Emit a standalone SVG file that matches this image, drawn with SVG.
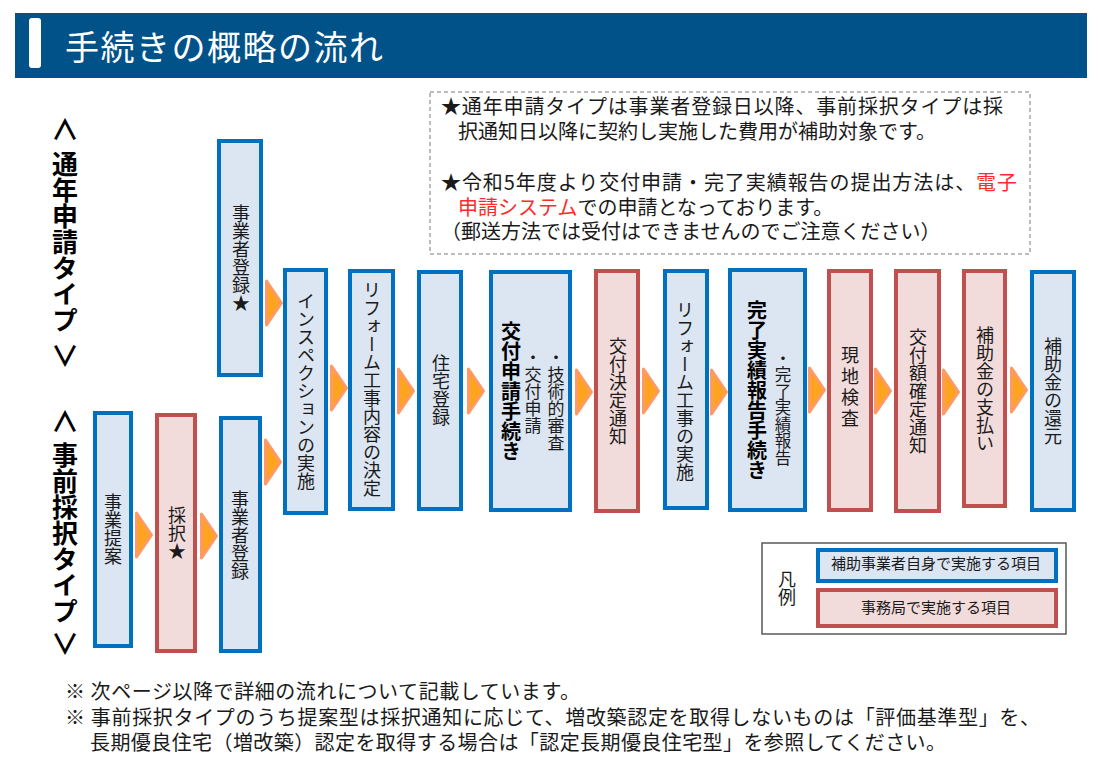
<svg xmlns="http://www.w3.org/2000/svg" width="1100" height="780" viewBox="0 0 1100 780">
<style>
text { font-family: "Noto Sans CJK JP", "Noto Sans", sans-serif; fill: #1a1a1a; }
.v { writing-mode: vertical-rl; text-anchor: middle; font-size: 18px; }
.vs { writing-mode: vertical-rl; text-anchor: start; font-size: 17px; }
.vb { writing-mode: vertical-rl; text-anchor: middle; font-size: 20px; font-weight: bold; fill: #000; }
.lab { writing-mode: vertical-rl; text-anchor: middle; font-size: 26px; font-weight: bold; fill: #000; }
.ang { text-anchor: middle; font-size: 28px; font-weight: bold; fill: #000; }
.bx { fill: #DCE6F2; stroke: #0070C0; stroke-width: 4; }
.rx { fill: #F2DCDB; stroke: #C0504D; stroke-width: 4; }
.note { font-size: 20px; }
.foot { font-size: 20px; }
.red { fill: #FF2A2A; }
</style>
<defs>
<path id="arr" d="M1.5,2 L16.5,24 L1.5,46 Z" fill="#FFA41F" stroke="#FF9966" stroke-width="3" stroke-linejoin="round"/>
</defs>

<g id="header">
<rect x="15" y="13" width="1072" height="65" fill="#02528A"/>
<rect x="29" y="18" width="12" height="50" rx="3" fill="#FFFFFF"/>
<text x="65" y="60" textLength="318" style="font-size:34px; fill:#FFFFFF;">手続きの概略の流れ</text>
</g>

<g id="type-labels">
<text class="ang" x="65" y="140">∧</text>
<text class="lab" x="65" y="242">通年申請タイプ</text>
<text class="ang" x="65" y="367">∨</text>
<text class="ang" x="65" y="432">∧</text>
<text class="lab" x="65" y="533">事前採択タイプ</text>
<text class="ang" x="65" y="655">∨</text>
</g>

<g id="notice">
<rect x="430" y="92" width="600" height="162" fill="none" stroke="#A6A6A6" stroke-width="1.5" stroke-dasharray="4,3"/>
<text class="note" x="441" y="114" textLength="562">★通年申請タイプは事業者登録日以降、事前採択タイプは採</text>
<text class="note" x="458" y="139">択通知日以降に契約し実施した費用が補助対象です。</text>
<text class="note" x="441" y="190" textLength="576">★令和5年度より交付申請・完了実績報告の提出方法は、<tspan class="red">電子</tspan></text>
<text class="note" x="458" y="215"><tspan class="red">申請システム</tspan>での申請となっております。</text>
<text class="note" x="441" y="239">（郵送方法では受付はできませんのでご注意ください）</text>
</g>

<g id="connectors">
<use href="#arr" x="265" y="279"/>
<use href="#arr" x="135" y="511"/>
<use href="#arr" x="200" y="512"/>
<use href="#arr" x="264" y="438"/>
<use href="#arr" x="330" y="364"/>
<use href="#arr" x="397" y="367"/>
<use href="#arr" x="467" y="367"/>
<use href="#arr" x="575" y="368"/>
<use href="#arr" x="642" y="367"/>
<use href="#arr" x="710" y="368"/>
<use href="#arr" x="808" y="366"/>
<use href="#arr" x="874" y="367"/>
<use href="#arr" x="942" y="368"/>
<use href="#arr" x="1010" y="366"/>
</g>

<g id="n-jigyosha-tounen">
<rect class="bx" x="219" y="141" width="42" height="234"/>
<text class="v" x="241" y="258">事業者登録★</text>
</g>
<g id="n-teian">
<rect class="bx" x="95" y="413" width="36" height="233"/>
<text class="v" x="113" y="529">事業提案</text>
</g>
<g id="n-saitaku">
<rect class="rx" x="157" y="415" width="38" height="236"/>
<text class="v" x="177" y="533">採択★</text>
</g>
<g id="n-jigyosha-jizen">
<rect class="bx" x="221" y="418" width="39" height="233"/>
<text class="v" x="240" y="535">事業者登録</text>
</g>
<g id="n-inspection">
<rect class="bx" x="285" y="270" width="41" height="243"/>
<text class="v" x="306" y="391">インスペクションの実施</text>
</g>
<g id="n-naiyo">
<rect class="bx" x="350" y="271" width="43" height="238"/>
<text class="v" x="372" y="389">リフォーム工事内容の決定</text>
</g>
<g id="n-jutaku">
<rect class="bx" x="419" y="272" width="42" height="237"/>
<text class="v" x="441" y="390">住宅登録</text>
</g>
<g id="n-kofu-shinsei">
<rect class="bx" x="491" y="272" width="79" height="238"/>
<text class="vb" x="511" y="391">交付申請手続き</text>
<text class="vs" x="533" y="349">・交付申請</text>
<text class="vs" x="556" y="349">・技術的審査</text>
</g>
<g id="n-kettei">
<rect class="rx" x="596" y="271" width="42" height="240"/>
<text class="v" x="618" y="391">交付決定通知</text>
</g>
<g id="n-koji">
<rect class="bx" x="665" y="271" width="42" height="237"/>
<text class="v" x="685" y="391">リフォーム工事の実施</text>
</g>
<g id="n-kanryo">
<rect class="bx" x="730" y="270" width="75" height="240"/>
<text class="vb" x="757" y="390">完了実績報告手続き</text>
<text class="vs" x="783" y="350" style="font-size:16.5px">・完了実績報告</text>
</g>
<g id="n-genchi">
<rect class="rx" x="829" y="271" width="42" height="239"/>
<text class="v" x="850" y="388" style="letter-spacing:3px">現地検査</text>
</g>
<g id="n-kakutei">
<rect class="rx" x="896" y="271" width="43" height="240"/>
<text class="v" x="918" y="391">交付額確定通知</text>
</g>
<g id="n-shiharai">
<rect class="rx" x="964" y="271" width="41" height="235"/>
<text class="v" x="985" y="389">補助金の支払い</text>
</g>
<g id="n-kangen">
<rect class="bx" x="1032" y="272" width="42" height="238"/>
<text class="v" x="1053" y="391">補助金の還元</text>
</g>

<g id="legend">
<rect x="762" y="543" width="304" height="91" fill="#FFFFFF" stroke="#595959" stroke-width="1.5"/>
<text class="v" x="787" y="588" style="font-size:18px">凡例</text>
<rect class="bx" x="818" y="550" width="238" height="31"/>
<text x="936" y="569" style="font-size:15px; text-anchor:middle;">補助事業者自身で実施する項目</text>
<rect class="rx" x="818" y="590" width="238" height="36"/>
<text x="936" y="613" style="font-size:15px; text-anchor:middle;">事務局で実施する項目</text>
</g>

<g id="footnotes">
<text class="foot" x="65" y="699" textLength="515">※ 次ページ以降で詳細の流れについて記載しています。</text>
<text class="foot" x="65" y="725" textLength="975">※ 事前採択タイプのうち提案型は採択通知に応じて、増改築認定を取得しないものは「評価基準型」を、</text>
<text class="foot" x="90" y="750" textLength="856">長期優良住宅（増改築）認定を取得する場合は「認定長期優良住宅型」を参照してください。</text>
</g>
</svg>
